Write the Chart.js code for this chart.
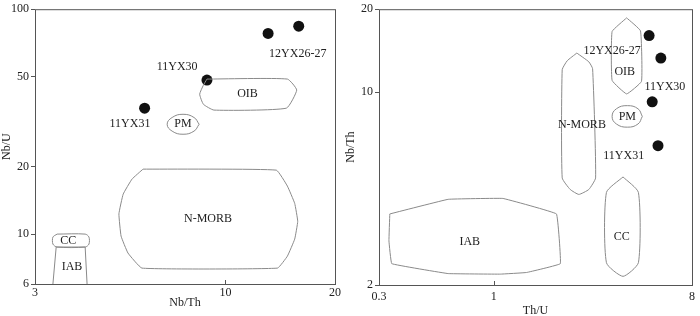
<!DOCTYPE html>
<html>
<head>
<meta charset="utf-8">
<script src="https://cdn.jsdelivr.net/npm/chart.js@4/dist/chart.umd.min.js"></script>
<style>
  html, body { margin: 0; padding: 0; background: #fff; }
  #wrap { position: relative; width: 700px; height: 316px; overflow: hidden; }
  canvas { position: absolute; top: 0; }
</style>
</head>
<body>
<div id="wrap">
  <canvas id="left" width="350" height="316" style="left:0"></canvas>
  <canvas id="right" width="360" height="316" style="left:340px"></canvas>
</div>
<script>
// samples: 12YX26-27 (x2), 11YX30, 11YX31
const leftNbTh = [13.1, 15.9, 8.9, 6.0];
const leftNbU = [78, 84, 48.4, 36.3];
const rightThU = [5.1, 5.77, 5.27, 5.6];
const rightNbTh = [16.05, 13.3, 9.23, 6.4];

const leftXTicks = [3, 10, 20];
const leftYTicks = [6, 10, 20, 50, 100];
const rightXTicks = [0.3, 1, 8];
const rightYTicks = [2, 10, 20];

// field outlines, [x, y] in data units
const oibLeft = [[8.9, 48.9], [14.8, 48.9], [15.7, 43.7], [14.7, 36.3], [9.3, 35.6], [8.7, 37.8], [8.5, 41.9], [8.7, 45.9]];
const pmLeft = [[8.47, 30.8], [8.2, 28.7], [7.65, 27.8], [7.14, 28.7], [6.92, 30.8], [7.14, 33.0], [7.65, 34.1], [8.2, 33.0]];
const morbLeft = [[5.94, 19.45], [13.8, 19.25], [14.8, 16.35], [15.5, 13.7], [15.8, 11.4], [15.5, 9.5], [14.8, 7.98], [13.9, 7.06],
                  [5.9, 7.06], [5.4, 8.24], [5.17, 9.8], [5.1, 12.3], [5.24, 15.06], [5.54, 17.56]];
const ccLeft = [[3.45, 10], [4.12, 10], [4.22, 9.7], [4.22, 9.03], [4.12, 8.76], [3.45, 8.76], [3.36, 9.03], [3.36, 9.7]];
const iabLeft = [[3.36, 6], [3.43, 8.76], [4.12, 8.76], [4.17, 6]];

const oibRight = [[4.03, 18.6], [4.66, 16.7], [4.71, 10.95], [4.03, 9.86], [3.46, 11.04], [3.46, 16.6]];
const pmRight = [[4.75, 8.17], [4.54, 7.67], [4.06, 7.47], [3.62, 7.67], [3.46, 8.17], [3.62, 8.71], [4.06, 8.94], [4.54, 8.71]];
const morbRight = [[2.39, 13.87], [2.71, 12.89], [2.82, 12.17], [2.91, 4.89], [2.71, 4.44], [2.44, 4.26], [2.23, 4.44], [2.05, 4.89],
                   [2.05, 12.07], [2.16, 13.0]];
const ccRight = [[3.88, 4.93], [4.56, 4.33], [4.56, 2.41], [3.88, 2.15], [3.26, 2.41], [3.26, 4.33]];
const iabRight = [[0.336, 3.62], [0.62, 4.09], [1.1, 4.12], [1.93, 3.62], [2.01, 2.39], [1.41, 2.22], [1.07, 2.19], [0.62, 2.2],
                  [0.343, 2.39], [0.333, 2.89]];

const FONT = '"Liberation Serif", "DejaVu Serif", serif';
const INK = "#222";

const pts = arr => arr.map(([x, y]) => ({ x, y }));

function field(arr, tension, open) {
  return {
    data: pts(open ? arr : arr.concat([arr[0]])),
    showLine: true,
    borderColor: "#8a8a8a",
    borderWidth: 1,
    pointRadius: 0,
    tension: tension,
    fill: false
  };
}

function samples(xs, ys) {
  return {
    data: xs.map((x, i) => ({ x, y: ys[i] })),
    showLine: false,
    pointRadius: 5.5,
    pointBackgroundColor: "#111",
    pointBorderWidth: 0
  };
}

// frame, inner x ticks, field names and axis titles
function overlay(o) {
  return {
    id: "overlay",
    afterDraw(chart) {
      const { ctx, chartArea: a, scales } = chart;
      ctx.save();
      ctx.strokeStyle = "#555";
      ctx.lineWidth = 1;
      ctx.strokeRect(a.left + 0.5, a.top + 0.5, a.right - a.left, a.bottom - a.top);
      o.innerTicks.forEach(v => {
        const x = Math.round(scales.x.getPixelForValue(v)) + 0.5;
        ctx.beginPath();
        ctx.moveTo(x, a.bottom);
        ctx.lineTo(x, a.bottom - 4);
        ctx.stroke();
      });
      ctx.fillStyle = INK;
      ctx.font = "12px " + FONT;
      ctx.textAlign = "center";
      ctx.textBaseline = "middle";
      o.labels.forEach(l => {
        ctx.fillText(l.t, scales.x.getPixelForValue(l.x), scales.y.getPixelForValue(l.y));
      });
      ctx.fillText(o.xTitle, (a.left + a.right) / 2, a.bottom + o.xTitleGap);
      ctx.translate(o.yTitleX, (a.top + a.bottom) / 2);
      ctx.rotate(-Math.PI / 2);
      ctx.fillText(o.yTitle, 0, 0);
      ctx.restore();
    }
  };
}

function makeChart(id, o) {
  return new Chart(document.getElementById(id), {
    type: "scatter",
    data: { datasets: o.datasets },
    options: {
      responsive: false,
      animation: false,
      layout: { padding: o.pad },
      plugins: { legend: { display: false }, tooltip: { enabled: false } },
      scales: {
        x: {
          type: "logarithmic",
          min: o.xRange[0], max: o.xRange[1],
          afterBuildTicks: s => { s.ticks = o.xTicks.map(v => ({ value: v })); },
          afterFit: s => { s.height = o.xHeight; },
          grid: { display: false, drawTicks: false, tickLength: 0 },
          border: { display: false },
          ticks: { color: INK, font: { family: FONT, size: 12 }, padding: o.xPadTick, maxRotation: 0, autoSkip: false,
                   callback: v => String(v) }
        },
        y: {
          type: "logarithmic",
          min: o.yRange[0], max: o.yRange[1],
          afterBuildTicks: s => { s.ticks = o.yTicks.map(v => ({ value: v })); },
          afterFit: s => { s.width = o.yWidth; },
          grid: { display: true, drawOnChartArea: false, drawTicks: true, tickLength: 4, color: "#555" },
          border: { display: false },
          ticks: { color: INK, font: { family: FONT, size: 12 }, padding: 2, autoSkip: false,
                   callback: v => String(v) }
        }
      }
    },
    plugins: [overlay(o)]
  });
}

// Nb/U vs Nb/Th
makeChart("left", {
  datasets: [
    field(oibLeft, 0.15), field(pmLeft, 0.45), field(morbLeft, 0.1),
    field(ccLeft, 0.3), field(iabLeft, 0, true),
    samples(leftNbTh, leftNbU)
  ],
  xRange: [3, 20], yRange: [6, 100],
  xTicks: leftXTicks, yTicks: leftYTicks,
  pad: { top: 8, right: 15, left: 0, bottom: 0 },
  yWidth: 35, xHeight: 32, xPadTick: 2,
  innerTicks: [10],
  xTitle: "Nb/Th", xTitleGap: 19,
  yTitle: "Nb/U", yTitleX: 7,
  labels: [
    { t: "11YX31", x: 5.47, y: 30.8 },
    { t: "11YX30", x: 7.37, y: 55.3 },
    { t: "12YX26-27", x: 15.8, y: 63.1 },
    { t: "OIB", x: 11.5, y: 41.9 },
    { t: "PM", x: 7.65, y: 30.8 },
    { t: "N-MORB", x: 8.96, y: 11.65 },
    { t: "CC", x: 3.7, y: 9.31 },
    { t: "IAB", x: 3.79, y: 7.13 }
  ]
});

// Nb/Th vs Th/U
makeChart("right", {
  datasets: [
    field(oibRight, 0.1), field(pmRight, 0.45), field(morbRight, 0.15),
    field(ccRight, 0.2), field(iabRight, 0.05),
    samples(rightThU, rightNbTh)
  ],
  xRange: [0.3, 8], yRange: [2, 20],
  xTicks: rightXTicks, yTicks: rightYTicks,
  pad: { top: 2, right: 1, left: 0, bottom: 0 },
  yWidth: 39, xHeight: 31, xPadTick: 5,
  innerTicks: [1],
  xTitle: "Th/U", xTitleGap: 26,
  yTitle: "Nb/Th", yTitleX: 11,
  labels: [
    { t: "12YX26-27", x: 3.46, y: 14.1 },
    { t: "OIB", x: 3.95, y: 11.9 },
    { t: "11YX30", x: 6.02, y: 10.43 },
    { t: "PM", x: 4.06, y: 8.17 },
    { t: "N-MORB", x: 2.52, y: 7.6 },
    { t: "11YX31", x: 3.91, y: 5.9 },
    { t: "IAB", x: 0.777, y: 2.86 },
    { t: "CC", x: 3.83, y: 3.0 }
  ]
});
</script>
</body>
</html>
